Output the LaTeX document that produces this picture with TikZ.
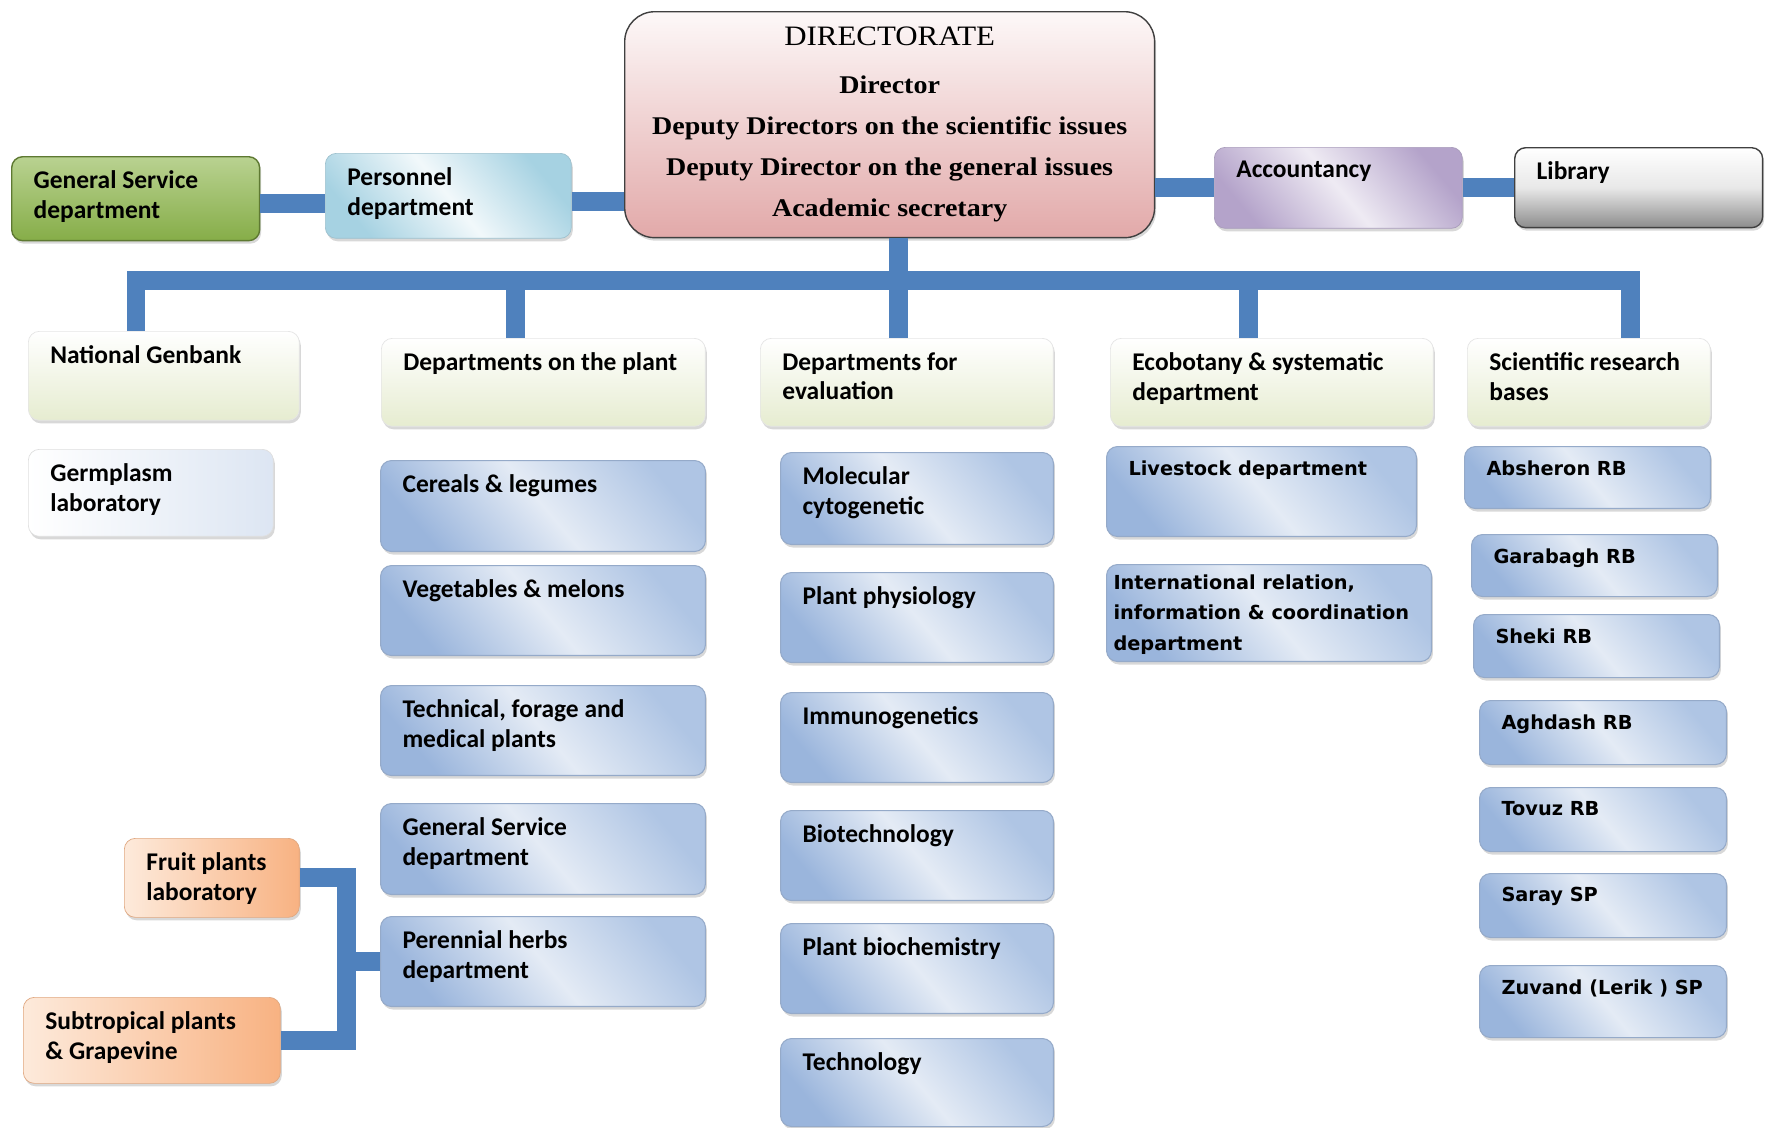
\documentclass[tikz,border=0pt]{standalone}
\usepackage{fontspec}
\setmainfont{Carlito}
\newfontfamily\dirfont{Liberation Serif}[FakeStretch=1.1]
\newfontfamily\tahfont{DejaVu Sans}
\usetikzlibrary{shadows}

\definecolor{barblue}{HTML}{4F81BD}
\definecolor{bdark}{HTML}{9AB5DC}
\definecolor{bmid}{HTML}{AFC5E4}
\definecolor{blite}{HTML}{E4EBF5}
\definecolor{cream}{HTML}{E6ECD0}
\definecolor{gsdark}{HTML}{86AD48}
\definecolor{gslite}{HTML}{B9D291}
\definecolor{perdark}{HTML}{A6D2E2}
\definecolor{dirpink}{HTML}{E2A9A9}
\definecolor{accdark}{HTML}{B4A3CA}
\definecolor{libgray}{HTML}{8C8C8C}
\definecolor{orng}{HTML}{F8B282}
\definecolor{orlite}{HTML}{FDEADB}

\tikzset{
  tb/.style 2 args={anchor=north west, rounded corners=0.22cm, inner xsep=0.44cm, inner ysep=0.28cm,
    minimum width=#1cm, minimum height=#2cm, font=\bfseries\fontsize{14.5}{17}\selectfont,
    execute at begin node={\begin{minipage}[t][\dimexpr#2cm-(\pgfkeysvalueof{/pgf/inner ysep})*2\relax][t]{\dimexpr#1cm-(\pgfkeysvalueof{/pgf/inner xsep})*2\relax}\raggedright},
    execute at end node={\end{minipage}},
    drop shadow={shadow xshift=0.03cm, shadow yshift=-0.06cm, opacity=0.3}},
  tah/.style={font=\tahfont\bfseries\fontsize{11}{17.3}\selectfont},
  blu/.style={draw=bdark!80!gray, line width=0.6pt, top color=bmid, bottom color=bdark, middle color=blite, shading angle=-50},
  hdr/.style={draw=gray!20, top color=white, bottom color=cream},
  bar/.style={line width=0.38cm, draw=barblue}
}

\begin{document}
\begin{tikzpicture}[x=0.02cm, y=-0.02cm]
\fill[white] (0,0) rectangle (1769,1127);
\useasboundingbox (0,0) rectangle (1769,1127);

% directorate and staff
\node[anchor=north west, rounded corners=0.6cm, draw=black!75, line width=0.8pt, top color=white!92!dirpink, bottom color=dirpink,
  minimum width=10.6cm, minimum height=4.52cm, align=center, font=\dirfont\bfseries\fontsize{14.5}{23.3}\selectfont,
  drop shadow={shadow xshift=0.03cm, shadow yshift=-0.06cm, opacity=0.3}] (dir) at (624,11)
  {{\mdseries\fontsize{16}{23.3}\selectfont DIRECTORATE}\\[4pt] Director\\ Deputy Directors on the scientific issues\\ Deputy Director on the general issues\\ Academic secretary};
\node[tb={4.96}{1.68}, draw=gsdark!70!black, line width=0.8pt, top color=gslite, bottom color=gsdark] (gsd) at (11,156) {General Service\\ department};
\node[tb={4.92}{1.70}, draw=perdark!80!gray, top color=perdark, bottom color=perdark, middle color=white!85!perdark, shading angle=-50] (pers) at (325,153) {Personnel\\ department};
\node[tb={4.96}{1.62}, draw=accdark!80!gray, top color=accdark, bottom color=accdark, middle color=white!78!accdark, shading angle=-50] (acc) at (1214,147) {Accountancy};
\node[tb={4.96}{1.60}, draw=black!75, line width=0.8pt, top color=white, bottom color=libgray, middle color=white!80!libgray] (lib) at (1514,147) {Library};

% second level
\node[tb={5.42}{1.78}, hdr] (ngb) at (28,331) {National Genbank};
\node[tb={6.48}{1.76}, hdr] (dpl) at (381,338) {Departments on the plant};
\node[tb={5.86}{1.76}, hdr] (dev) at (760,338) {Departments for\\ evaluation};
\node[tb={6.46}{1.76}, hdr] (eco) at (1110,338) {Ecobotany \& systematic\\ department};
\node[tb={4.86}{1.76}, hdr] (srb) at (1467,338) {Scientific research\\ bases};

\node[tb={4.90}{1.74}, draw=gray!25, left color=white, right color=blite!90!bdark] (germ) at (28,449) {Germplasm\\ laboratory};

% plant departments
\node[tb={6.50}{1.82}, blu] (cer) at (380,460) {Cereals \& legumes};
\node[tb={6.50}{1.80}, blu] (veg) at (380,565) {Vegetables \& melons};
\node[tb={6.50}{1.80}, blu] (tec) at (380,685) {Technical, forage and\\ medical plants};
\node[tb={6.50}{1.82}, blu] (gsv) at (380,803) {General Service\\ department};
\node[tb={6.50}{1.80}, blu] (per) at (380,916) {Perennial herbs\\ department};

% evaluation departments
\node[tb={5.46}{1.84}, blu] (mol) at (780,452) {Molecular\\ cytogenetic};
\node[tb={5.46}{1.80}, blu] (phy) at (780,572) {Plant physiology};
\node[tb={5.46}{1.80}, blu] (imm) at (780,692) {Immunogenetics};
\node[tb={5.46}{1.80}, blu] (bio) at (780,810) {Biotechnology};
\node[tb={5.46}{1.80}, blu] (bch) at (780,923) {Plant biochemistry};
\node[tb={5.46}{1.76}, blu] (tch) at (780,1038) {Technology};

% ecobotany
\node[tb={6.20}{1.80}, blu, tah] (liv) at (1106,446) {Livestock department};
\node[tb={6.50}{1.94}, blu, tah, inner xsep=0.14cm, inner ysep=0.2cm] (intl) at (1106,564) {International relation,\\ information \& coordination\\ department};

% research bases
\node[tb={4.92}{1.24}, blu, tah] (abs) at (1464,446) {Absheron RB};
\node[tb={4.92}{1.24}, blu, tah] (gar) at (1471,534) {Garabagh RB};
\node[tb={4.92}{1.26}, blu, tah] (she) at (1473,614) {Sheki RB};
\node[tb={4.94}{1.28}, blu, tah] (agh) at (1479,700) {Aghdash RB};
\node[tb={4.94}{1.28}, blu, tah] (tov) at (1479,787) {Tovuz RB};
\node[tb={4.94}{1.28}, blu, tah] (sar) at (1479,873) {Saray SP};
\node[tb={4.94}{1.44}, blu, tah] (zuv) at (1479,965) {Zuvand (Lerik ) SP};

% laboratories
\node[tb={3.50}{1.58}, draw=orng!80!gray, left color=orlite, right color=orng] (fruit) at (124,838) {Fruit plants\\ laboratory};
\node[tb={5.14}{1.72}, draw=orng!80!gray, left color=orlite, right color=orng] (sub) at (23,997) {Subtropical plants\\ \& Grapevine};

% connectors
\draw[bar] ([yshift=-0.1cm]gsd.east) -- ([yshift=-0.1cm]gsd.east -| pers.west);
\draw[bar] ([yshift=-0.12cm]pers.east) -- ([yshift=-0.12cm]pers.east -| dir.west);
\draw[bar] (acc.west) -- (acc.west -| dir.east);
\draw[bar] (acc.east) -- (acc.east -| lib.west);

\coordinate (d1) at (136,280);
\coordinate (d2) at (515,280);
\coordinate (d3) at (898,280);
\coordinate (d4) at (1248,280);
\coordinate (d5) at (1630,280);
\draw[bar] (d1 |- ngb.north) -- (d1) -- (d5) -- (d5 |- srb.north);
\draw[bar] (d3 |- dir.south) -- (d3 |- dev.north);
\draw[bar] (d2) -- (d2 |- dpl.north);
\draw[bar] (d4) -- (d4 |- eco.north);

\coordinate (jn) at (346,963);
\draw[bar] (fruit.east) -| (jn) |- (sub.east);
\draw[bar] (per.west -| jn) -- (per.west);
\end{tikzpicture}
\end{document}
